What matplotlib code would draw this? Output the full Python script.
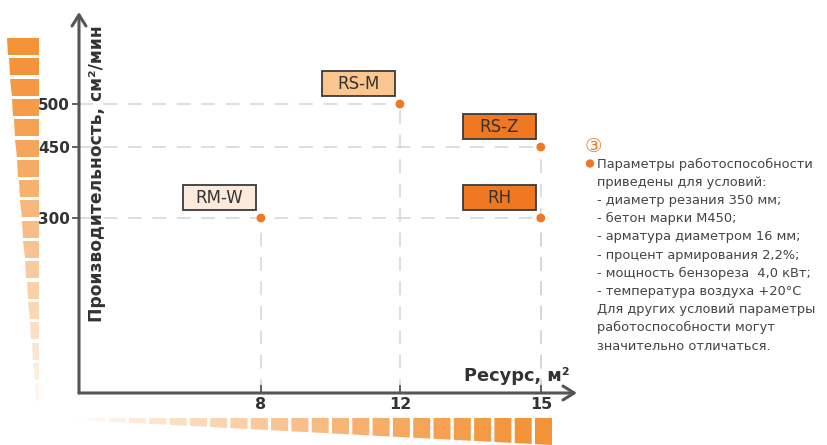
import numpy as np
import matplotlib
matplotlib.use("Agg")
import matplotlib.pyplot as plt
from matplotlib.patches import Polygon, Rectangle
import matplotlib.transforms as mtrans

# ---------------- data ----------------
models = ["RM-W", "RS-M", "RS-Z", "RH"]
resource = [8, 12, 15, 15]            # м²
productivity = [300, 500, 450, 300]   # см²/мин
box_colors = ["#FDEADB", "#FBC58E", "#F07820", "#F07820"]
x_ticks = [8, 12, 15]
y_ticks = [300, 450, 500]
notes = [
    "Параметры работоспособности",
    "приведены для условий:",
    "- диаметр резания 350 мм;",
    "- бетон марки М450;",
    "- арматура диаметром 16 мм;",
    "- процент армирования 2,2%;",
    "- мощность бензореза  4,0 кВт;",
    "- температура воздуха +20°С",
    "Для других условий параметры",
    "работоспособности могут",
    "значительно отличаться.",
]

W, H = 828, 445
fig = plt.figure(figsize=(W / 100, H / 100), dpi=100)
plt.rcParams['font.family'] = ['DejaVu Sans']

AX_L, AX_B, AX_R, AX_T = 79, 393, 577, 12
ax = fig.add_axes([AX_L / W, 1 - AX_B / H, (AX_R - AX_L) / W, (AX_B - AX_T) / H])

# non-uniform (designer) scales
xk = [0, 8, 12, 15, 25]
xp = [0, 182, 321, 462, 932]
yk = [0, 300, 450, 500, 700]
yp = [0, 175, 246, 289, 461]
ax.set_xscale('function', functions=(lambda v: np.interp(v, xk, xp), lambda p: np.interp(p, xp, xk)))
ax.set_yscale('function', functions=(lambda v: np.interp(v, yk, yp), lambda p: np.interp(p, yp, yk)))
ax.set_xlim(0, 15.77)
ax.set_ylim(0, 607)

for s in ax.spines.values():
    s.set_visible(False)
ax.patch.set_alpha(0)

axis_col = "#555555"
ax.annotate("", xy=(1, 0), xytext=(0, 0), xycoords='axes fraction',
            arrowprops=dict(arrowstyle='->,head_length=0.8,head_width=0.5', color=axis_col,
                            lw=2.2, shrinkA=0, shrinkB=0))
ax.annotate("", xy=(0, 1), xytext=(0, 0), xycoords='axes fraction',
            arrowprops=dict(arrowstyle='->,head_length=0.8,head_width=0.5', color=axis_col,
                            lw=2.2, shrinkA=0, shrinkB=0))

ax.set_xticks(x_ticks)
ax.set_xticklabels([str(v) for v in x_ticks])
ax.set_yticks(y_ticks)
ax.set_yticklabels([str(v) for v in y_ticks])
ax.tick_params(axis='x', direction='in', length=6, width=1.3, color=axis_col, pad=3,
               labelsize=11.5, labelcolor="#333333")
ax.tick_params(axis='y', direction='out', length=5, width=1.3, color=axis_col, pad=1.5,
               labelsize=11, labelcolor="#333333")
for lab in ax.get_xticklabels() + ax.get_yticklabels():
    lab.set_fontweight('bold')

# dashed guide lines
grid_col = "#D5D5D5"
ymax_x = {}
for x, y in zip(resource, productivity):
    ymax_x[y] = max(ymax_x.get(y, 0), x)
for y, xm in ymax_x.items():
    ax.plot([0, xm], [y, y], color=grid_col, lw=1.1, dashes=(9, 7), zorder=1)
for x, y in zip(resource, productivity):
    ax.plot([x, x], [0, y], color=grid_col, lw=1.1, dashes=(9, 7), zorder=1)

ax.scatter(resource, productivity, s=40, color="#F07820", zorder=3, edgecolors='none')

# label boxes
for name, x, y, c in zip(models, resource, productivity, box_colors):
    tr = fig.dpi_scale_trans + mtrans.ScaledTranslation(x, y, ax.transData)
    ax.add_patch(Rectangle((-0.78, 0.08), 0.73, 0.25, transform=tr, facecolor=c,
                           edgecolor="#3A3A3A", lw=1.3, zorder=4, clip_on=False))
    ax.text(-0.415, 0.205, name, transform=tr, ha='center', va='center', fontsize=12,
            color="#333333", zorder=5)

# axis titles
ax.text(0.036, 0.575, "Производительность, см²/мин", transform=ax.transAxes, rotation=90,
        ha='center', va='center', fontsize=12.3, fontweight='bold', color="#333333")
ax.text(0.986, 0.045, "Ресурс, м²", transform=ax.transAxes, ha='right', va='center',
        fontsize=12.8, fontweight='bold', color="#333333")

# decorative stripes (figure pixel coordinates)
pix = mtrans.Affine2D().scale(1 / W, -1 / H).translate(0, 1) + fig.transFigure

def blend(c1, c2, t):
    c1 = np.array(matplotlib.colors.to_rgb(c1)); c2 = np.array(matplotlib.colors.to_rgb(c2))
    return tuple(c1 * (1 - t) + c2 * t)

orange = "#F39236"
n_left = 19
for i in range(n_left):
    y0 = 38 + i * 20.3
    y1 = min(y0 + 17, 410)
    if y0 > 408:
        break
    xl0 = 7 + (y0 - 38) * 30 / 370
    xl1 = 7 + (y1 - 38) * 30 / 370
    t = i / (n_left - 1)
    col = blend(orange, "#FFFFFF", min(1, t ** 1.3 * 0.97))
    fig.add_artist(Polygon([(xl0, y0), (39, y0), (39, y1), (xl1, y1)], closed=True,
                           transform=pix, facecolor=col, edgecolor='none'))

n_bot = 24
for i in range(n_bot):
    x1 = 552 - i * 20.3
    x0 = x1 - 17
    if x1 < 78:
        break
    x0 = max(x0, 77)
    yb0 = 420 + (x0 - 77) * 25 / 475
    yb1 = 420 + (x1 - 77) * 25 / 475
    t = i / (n_bot - 1)
    col = blend(orange, "#FFFFFF", min(1, t ** 1.3 * 0.97))
    fig.add_artist(Polygon([(x0, 418), (x1, 418), (x1, yb1), (x0, yb0)], closed=True,
                           transform=pix, facecolor=col, edgecolor='none'))

# right-hand note
fig.text(585 / W, 1 - 146 / H, "③", fontsize=14, color="#F07820", ha='left', va='center',
         family=['DejaVu Sans', 'Noto Sans CJK SC'])
fig.add_artist(matplotlib.patches.Circle((590, 163.5), 4.2, transform=pix,
                                         facecolor="#F07820", edgecolor='none'))
for i, line in enumerate(notes):
    fig.text(597 / W, 1 - (164 + i * 18.2) / H, line, fontsize=9.4,
             color="#444444", ha='left', va='center')

fig.savefig("out.png", dpi=100)
